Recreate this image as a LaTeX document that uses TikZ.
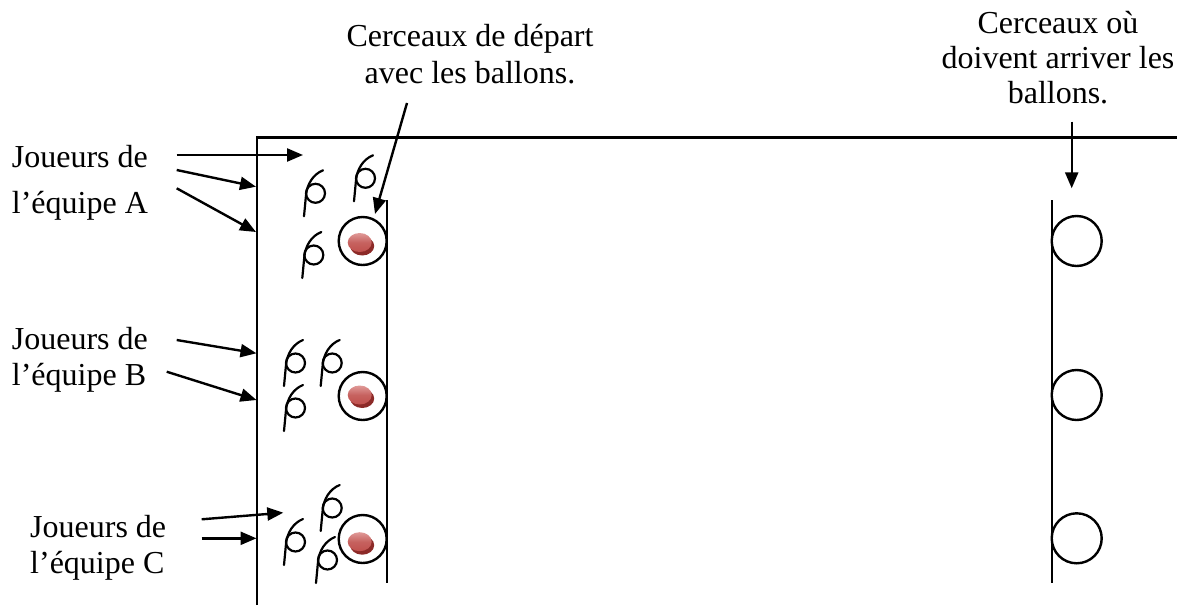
\documentclass[tikz,border=0pt]{standalone}
\usepackage{fontspec}
\setmainfont{Liberation Serif}
\usetikzlibrary{arrows.meta}
\definecolor{ballred}{HTML}{C0504D}
\definecolor{balldark}{HTML}{8C2A28}
\definecolor{balllight}{HTML}{E09A98}
\tikzset{
  ln/.style={line width=2.4pt, line cap=butt},
  arr/.style={line width=2.4pt, -{Triangle[length=16pt,width=13pt]}},
  lbl/.style={inner sep=0pt, font=\fontsize{32}{36}\selectfont},
  hoop/.style={line width=2.4pt},
  player/.pic={
    \draw[line width=2.2pt, line cap=round] (8,-23) .. controls (-2,-19) and (-8,-9) .. (-9,2) -- (-11,23);
    \draw[line width=2.2pt] (0.5,0) circle (9.5);
  },
  ball/.pic={
    \fill[balldark] (2.5,3.5) ellipse [x radius=12, y radius=9.5];
    \shade[top color=balllight, bottom color=ballred, middle color=ballred!90!white] (0,0) ellipse [x radius=12, y radius=9.5];
  }
}
\begin{document}
\begin{tikzpicture}[x=1pt,y=-1pt]
\useasboundingbox (0,0) rectangle (1177,605);

% field
\coordinate (FTL) at (257,137.3);
\coordinate (FBL) at (257,605);
\coordinate (FTR) at (1177,137.3);
\draw[ln] (FBL) -- (FTL) -- (FTR);
\coordinate (SLt) at (386.7,200);
\coordinate (SLb) at (386.7,583);
\draw[ln] (SLt) -- (SLb);
\coordinate (ELt) at (1051.7,200);
\coordinate (ELb) at (1051.7,583);
\draw[ln] (ELt) -- (ELb);

% start hoops with balls
\node[hoop, draw, circle, minimum size=48pt, inner sep=0pt] (s1) at (362.7,241) {};
\node[hoop, draw, circle, minimum size=48pt, inner sep=0pt] (s2) at (362.7,396) {};
\node[hoop, draw, circle, minimum size=48pt, inner sep=0pt] (s3) at (362.7,539) {};
\pic at (359.7,242.5) {ball};
\pic at (359.7,395) {ball};
\pic at (359.7,541.7) {ball};

% arrival hoops
\node[hoop, draw, circle, minimum size=50pt, inner sep=0pt] (e1) at (1076.7,241) {};
\node[hoop, draw, circle, minimum size=50pt, inner sep=0pt] (e2) at (1076.7,395) {};
\node[hoop, draw, circle, minimum size=50pt, inner sep=0pt] (e3) at (1076.7,538.3) {};

% players
\pic at (315,193.3) {player};
\pic at (365,178.3) {player};
\pic at (313.3,255) {player};
\pic at (295,363) {player};
\pic at (331.7,363) {player};
\pic at (295,408) {player};
\pic at (331.7,508) {player};
\pic at (295,542) {player};
\pic at (327,560) {player};

% labels (base = baseline of the last line)
\node[lbl, anchor=base, align=center] (top) at (470,83.3) {Cerceaux de départ\\[0.7pt]avec les ballons.};
\node[lbl, anchor=base, align=center] (right) at (1058,103.3) {Cerceaux où\\[-1pt]doivent arriver les\\[-1pt]ballons.};
\node[lbl, anchor=base west, align=left] (la) at (11.7,213) {Joueurs de\\[10pt]l’équipe A};
\node[lbl, anchor=base west, align=left] (lb) at (11.7,385) {Joueurs de\\l’équipe B};
\node[lbl, anchor=base west, align=left] (lc) at (30,573.3) {Joueurs de\\l’équipe C};

% arrows
\coordinate (ta) at (407,103);
\coordinate (tb) at (375,214);
\draw[arr] (ta) -- (tb);
\coordinate (ra) at (1071.7,121.7);
\coordinate (rb) at (1071.7,188.3);
\draw[arr] (ra) -- (rb);

\coordinate (a1s) at (176.7,155);
\coordinate (a1e) at (303,155);
\coordinate (a2s) at (176.7,170);
\coordinate (a2e) at (256,186.7);
\coordinate (a3s) at (176.7,188.3);
\coordinate (a3e) at (256,232);
\draw[arr] (a1s) -- (a1e);
\draw[arr] (a2s) -- (a2e);
\draw[arr] (a3s) -- (a3e);

\coordinate (b1s) at (176.7,340);
\coordinate (b1e) at (256.5,353.3);
\coordinate (b2s) at (166.7,371.7);
\coordinate (b2e) at (256.5,400);
\draw[arr] (b1s) -- (b1e);
\draw[arr] (b2s) -- (b2e);

\coordinate (c1s) at (201.7,519.3);
\coordinate (c1e) at (283.3,512.7);
\coordinate (c2s) at (201.7,538.3);
\coordinate (c2e) at (256.5,538.3);
\draw[arr] (c1s) -- (c1e);
\draw[arr] (c2s) -- (c2e);
\end{tikzpicture}
\end{document}
